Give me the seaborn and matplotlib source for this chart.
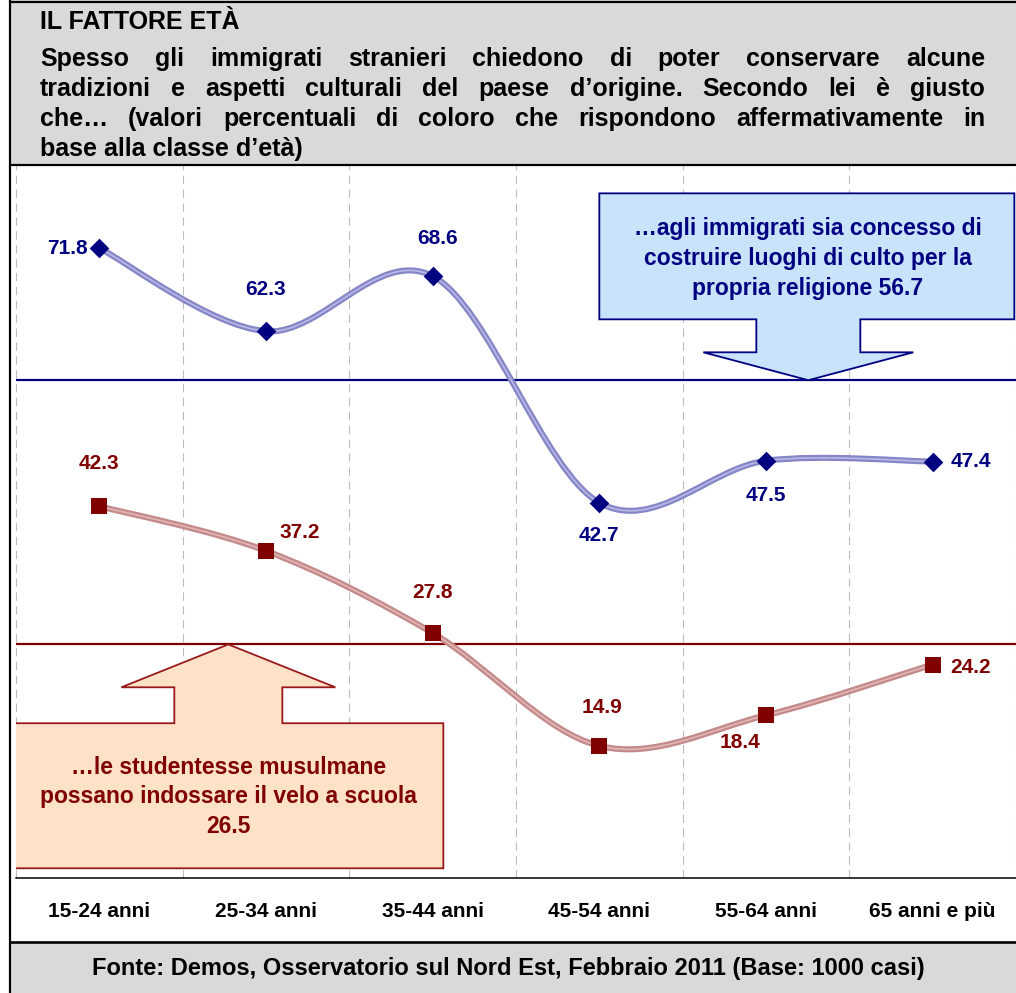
import numpy as np
import pandas as pd
import matplotlib
matplotlib.use("Agg")
import matplotlib.pyplot as plt
import seaborn as sns
from matplotlib.path import Path
from matplotlib.patches import PathPatch, Rectangle, Polygon
from matplotlib.lines import Line2D

# ---- data -----------------------------------------------------------------
classi = ["15-24 anni", "25-34 anni", "35-44 anni", "45-54 anni", "55-64 anni", "65 anni e più"]
luoghi_culto = [71.8, 62.3, 68.6, 42.7, 47.5, 47.4]
velo_scuola = [42.3, 37.2, 27.8, 14.9, 18.4, 24.2]
media_culto = 56.7
media_velo = 26.5

titolo = "IL FATTORE ETÀ"
righe_domanda = [
    "Spesso gli immigrati stranieri chiedono di poter conservare alcune",
    "tradizioni e aspetti culturali del paese d’origine. Secondo lei è giusto",
    "che… (valori percentuali di coloro che rispondono affermativamente in",
    "base alla classe d’età)",
]
fonte = "Fonte: Demos, Osservatorio sul Nord Est, Febbraio 2011 (Base: 1000 casi)"
testo_culto = f"…agli immigrati sia concesso di\ncostruire luoghi di culto per la\npropria religione {media_culto}"
testo_velo = f"…le studentesse musulmane\npossano indossare il velo a scuola\n{media_velo}"

# ---- style ----------------------------------------------------------------
sns.set_theme(style="white")
plt.rcParams["font.family"] = ["Liberation Sans", "DejaVu Sans"]
plt.rcParams["lines.scale_dashes"] = False

NAVY = "#000080"
DARKRED = "#800000"
GRAY = "#d9d9d9"
FS = 15          # value and axis labels
FS_HEAD = 18     # header block
FS_FOOT = 17     # source line
FS_BOX = 16.5    # callout boxes

W, H = 1016, 993
fig = plt.figure(figsize=(W / 100, H / 100), dpi=100)
fig.patch.set_facecolor("white")


def fx(px):
    return px / W


def fy(py):
    return 1 - py / H


# header / footer bands
fig.add_artist(Rectangle((fx(10), fy(165)), 1 - fx(10), fy(0) - fy(165),
                         transform=fig.transFigure, facecolor=GRAY, edgecolor="none", zorder=0))
fig.add_artist(Rectangle((fx(10), fy(993)), 1 - fx(10), fy(942) - fy(993),
                         transform=fig.transFigure, facecolor=GRAY, edgecolor="none", zorder=0))
for (x0, y0, x1, y1, lw) in [(10, 0, 10, 993, 2.2), (10, 1.5, 1016, 1.5, 2.2),
                              (10, 165, 1016, 165, 2.2), (10, 942, 1016, 942, 2.6)]:
    fig.add_artist(Line2D([fx(x0), fx(x1)], [fy(y0), fy(y1)], transform=fig.transFigure,
                          color="black", lw=lw * 0.72, zorder=3))

# ---- axes -----------------------------------------------------------------
ax = fig.add_axes([fx(16), fy(878), fx(1016) - fx(16), fy(165) - fy(878)])
ax.set_facecolor("white")
ax.set_xlim(-0.5, 5.5)
ax.set_ylim(-0.2, 81.3)
ax.set_yticks([])
for s in ["left", "right", "top"]:
    ax.spines[s].set_visible(False)
ax.spines["bottom"].set_color("black")
ax.spines["bottom"].set_linewidth(1.1)

pos = np.arange(len(classi))
df = pd.DataFrame({"classe": classi, "pos": pos, "culto": luoghi_culto, "velo": velo_scuola})

# dashed separators between age classes
for b in np.arange(-0.5, 5.6, 1.0):
    ax.axvline(b, color="#bcbcbc", lw=0.8, ls=(0, (6, 4)), zorder=1)

# overall averages
ax.axhline(media_culto, color=NAVY, lw=1.6, zorder=2)
ax.axhline(media_velo, color=DARKRED, lw=1.6, zorder=2)


def curva_liscia(xs, ys, t=1 / 6):
    pts = np.column_stack([xs, ys]).astype(float)
    n = len(pts)
    verts = [pts[0]]
    codes = [Path.MOVETO]
    for i in range(n - 1):
        p0 = pts[max(i - 1, 0)]
        p1 = pts[i]
        p2 = pts[i + 1]
        p3 = pts[min(i + 2, n - 1)]
        c1 = p1 + (p2 - p0) * t
        c2 = p2 - (p3 - p1) * t
        verts += [c1, c2, p2]
        codes += [Path.CURVE4] * 3
    return Path(verts, codes)


for col, outer, inner in [("culto", "#8585c8", "#b9b9e6"), ("velo", "#c48a8a", "#e0b6b6")]:
    path = curva_liscia(df["pos"], df[col])
    ax.add_patch(PathPatch(path, facecolor="none", edgecolor=outer, lw=4.4, zorder=3,
                           capstyle="round"))
    ax.add_patch(PathPatch(path, facecolor="none", edgecolor=inner, lw=1.2, zorder=3))

sns.scatterplot(data=df, x="pos", y="culto", marker="D", s=10 ** 2, color=NAVY,
                edgecolor=NAVY, linewidth=0, zorder=5, ax=ax, legend=False)
sns.scatterplot(data=df, x="pos", y="velo", marker="s", s=11 ** 2, color=DARKRED,
                edgecolor=DARKRED, linewidth=0, zorder=5, ax=ax, legend=False)

ax.set_xticks(pos)
ax.set_xticklabels(classi, fontsize=FS, fontweight="bold", color="black")
ax.tick_params(axis="x", length=0, pad=17)
ax.set_xlabel("")
ax.set_ylabel("")

# value labels (offsets in pixels: dx, dy, ha)
k = 0.72
off_culto = [(-12, 0, "right"), (0, 42, "center"), (5, 38, "center"),
             (0, -33, "center"), (0, -35, "center"), (18, 0, "left")]
off_velo = [(0, 43, "center"), (14, 18, "left"), (0, 41, "center"),
            (3, 38, "center"), (-26, -27, "center"), (18, -3, "left")]
for vals, offs, c in [(luoghi_culto, off_culto, NAVY), (velo_scuola, off_velo, DARKRED)]:
    for i, (v, (dx, dy, ha)) in enumerate(zip(vals, offs)):
        ax.annotate(f"{v}", (i, v), xytext=(dx * k, dy * k), textcoords="offset points",
                    ha=ha, va="center", fontsize=FS, fontweight="bold", color=c, zorder=6)

# callout arrows
culto_poly = [(3.0, 78.06), (5.49, 78.06), (5.49, 63.66), (4.566, 63.66), (4.566, 59.89),
              (4.884, 59.89), (4.254, media_culto), (3.624, 59.89), (3.942, 59.89),
              (3.942, 63.66), (3.0, 63.66)]
ax.add_patch(Polygon(culto_poly, closed=True, facecolor="#c9e3fb", edgecolor=NAVY,
                     lw=1.3, zorder=7, joinstyle="miter"))
ax.text(4.25, 70.6, testo_culto, ha="center", va="center", fontsize=FS_BOX,
        fontweight="bold", color=NAVY, linespacing=1.38, zorder=8)

velo_poly = [(-0.516, 17.49), (0.45, 17.49), (0.45, 21.6), (0.132, 21.6), (0.774, media_velo),
             (1.416, 21.6), (1.098, 21.6), (1.098, 17.49), (2.064, 17.49), (2.064, 0.91),
             (-0.516, 0.91)]
ax.add_patch(Polygon(velo_poly, closed=True, facecolor="#fde2c8", edgecolor="#9a1a1a",
                     lw=1.3, zorder=7, joinstyle="miter"))
ax.text(0.774, 9.1, testo_velo, ha="center", va="center", fontsize=FS_BOX,
        fontweight="bold", color=DARKRED, linespacing=1.36, zorder=8)

# ---- header text ------------------------------------------------------------
renderer = fig.canvas.get_renderer()
x_left, x_right = 40, 985
tkw = dict(fontsize=FS_HEAD, fontweight="bold", color="black", va="baseline", ha="left")
fig.text(fx(x_left), fy(29), titolo, **tkw)
baselines = [66, 96, 126, 156]
for j, (riga, yb) in enumerate(zip(righe_domanda, baselines)):
    if j == len(righe_domanda) - 1:
        fig.text(fx(x_left), fy(yb), riga, **tkw)
        continue
    parole = riga.split()
    objs = [fig.text(0, fy(yb), p, **tkw) for p in parole]
    widths = [o.get_window_extent(renderer).width for o in objs]
    gap = (x_right - x_left - sum(widths)) / (len(parole) - 1)
    xc = x_left
    for o, w in zip(objs, widths):
        o.set_x(fx(xc))
        xc += w + gap

# ---- footer ---------------------------------------------------------------
fig.text(fx(508), fy(968), fonte, ha="center", va="center", fontsize=FS_FOOT,
         fontweight="bold", color="black")

fig.savefig("out.png", dpi=100)
